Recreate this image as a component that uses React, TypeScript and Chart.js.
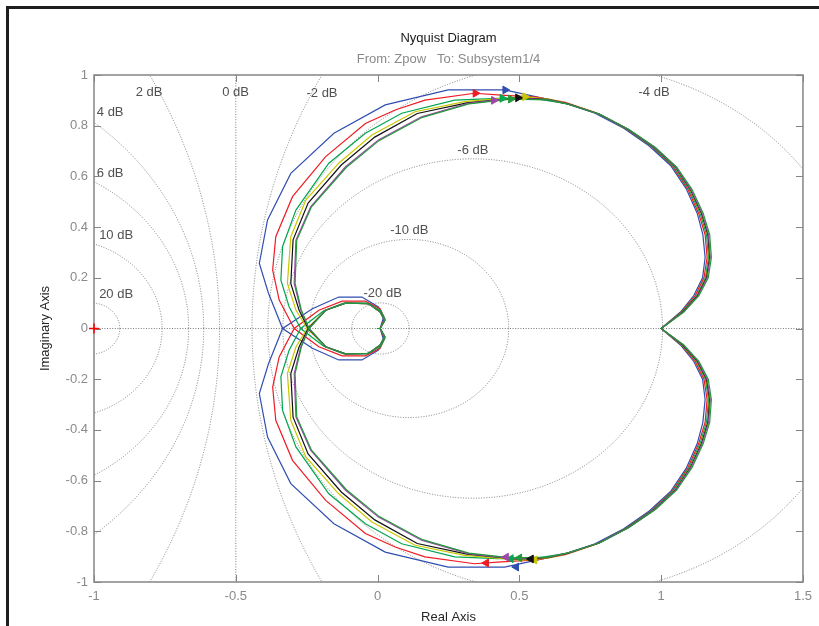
import React, { useEffect, useRef } from "react";
import { Chart, registerables } from "chart.js";

Chart.register(...registerables);

// ---------- axis ticks ----------
const xTickValues = [-1, -0.5, 0, 0.5, 1, 1.5];
const xTickLabels = ["-1", "-0.5", "0", "0.5", "1", "1.5"];
const yTickValues = [-1, -0.8, -0.6, -0.4, -0.2, 0, 0.2, 0.4, 0.6, 0.8, 1];
const yTickLabels = ["-1", "-0.8", "-0.6", "-0.4", "-0.2", "0", "0.2", "0.4", "0.6", "0.8", "1"];

// ---------- M-circle grid (closed-loop magnitude, dB) ----------
const gridDb = [20, 10, 6, 4, 2, 0, -2, -4, -6, -10, -20];
const gridLabelText = ["20 dB", "10 dB", "6 dB", "4 dB", "2 dB", "0 dB", "-2 dB", "-4 dB", "-6 dB", "-10 dB", "-20 dB"];
const gridLabelRe = [-0.922, -0.922, -0.943, -0.943, -0.806, -0.501, -0.196, 0.975, 0.336, 0.112, 0.018];
const gridLabelIm = [0.135, 0.369, 0.612, 0.853, 0.932, 0.932, 0.928, 0.933, 0.704, 0.386, 0.139];

// ---------- Nyquist branches (one frequency branch; the other is its conjugate) ----------
const seriesNames = ["s1", "s2", "s3", "s4", "s5", "s6", "s7"];
const seriesColors = ["#2f4fb0", "#ee1c24", "#00a650", "#c9c700", "#111111", "#a047a8", "#22973c"];

const branch1: number[][] = [
  [0.009, 0], [0.021, -0.045], [0.003, -0.085], [-0.055, -0.124], [-0.137, -0.124], [-0.23, -0.078],
  [-0.335, 0], [-0.385, 0.14], [-0.417, 0.257], [-0.388, 0.428], [-0.306, 0.612], [-0.154, 0.77],
  [0.027, 0.882], [0.249, 0.941], [0.448, 0.941], [0.658, 0.89], [0.765, 0.85], [0.868, 0.79],
  [0.958, 0.72], [1.033, 0.643], [1.088, 0.552], [1.127, 0.455], [1.147, 0.37], [1.155, 0.28],
  [1.146, 0.2], [1.115, 0.13], [1.068, 0.065], [1.0, 0],
];
const branch2: number[][] = [
  [0.009, 0], [0.025, -0.039], [0.009, -0.078], [-0.043, -0.108], [-0.125, -0.108], [-0.207, -0.072],
  [-0.294, 0], [-0.347, 0.112], [-0.37, 0.231], [-0.359, 0.362], [-0.3, 0.52], [-0.183, 0.678],
  [-0.043, 0.809], [0.062, 0.862], [0.167, 0.901], [0.342, 0.928], [0.436, 0.921], [0.56, 0.913],
  [0.662, 0.892], [0.77, 0.851], [0.872, 0.791], [0.963, 0.721], [1.038, 0.643], [1.093, 0.552],
  [1.132, 0.455], [1.155, 0.37], [1.162, 0.28], [1.151, 0.2], [1.12, 0.13], [1.071, 0.065], [1.0, 0],
];
const branch3: number[][] = [
  [0.009, 0], [0.027, -0.036], [0.01, -0.072], [-0.04, -0.1], [-0.12, -0.1], [-0.19, -0.07],
  [-0.271, 0], [-0.312, 0.086], [-0.341, 0.191], [-0.335, 0.323], [-0.288, 0.467], [-0.172, 0.652],
  [-0.043, 0.77], [0.085, 0.849], [0.272, 0.901], [0.424, 0.908], [0.56, 0.906], [0.667, 0.887],
  [0.775, 0.848], [0.877, 0.788], [0.968, 0.718], [1.043, 0.64], [1.098, 0.55], [1.137, 0.455],
  [1.16, 0.37], [1.167, 0.28], [1.156, 0.2], [1.125, 0.13], [1.073, 0.065], [1.0, 0],
];
const branch4: number[][] = [
  [0.009, 0], [0.025, -0.032], [0.009, -0.065], [-0.031, -0.098], [-0.113, -0.1], [-0.183, -0.072],
  [-0.248, 0], [-0.288, 0.073], [-0.318, 0.178], [-0.306, 0.362], [-0.253, 0.507], [-0.137, 0.652],
  [-0.02, 0.763], [0.132, 0.855], [0.307, 0.895], [0.506, 0.914], [0.6, 0.906], [0.672, 0.887],
  [0.78, 0.847], [0.882, 0.787], [0.973, 0.717], [1.048, 0.639], [1.102, 0.549], [1.141, 0.455],
  [1.164, 0.37], [1.17, 0.28], [1.159, 0.2], [1.127, 0.13], [1.075, 0.065], [1.0, 0],
];
const branch5: number[][] = [
  [0.009, 0], [0.025, -0.032], [0.009, -0.065], [-0.031, -0.098], [-0.113, -0.1], [-0.183, -0.072],
  [-0.245, 0], [-0.277, 0.073], [-0.306, 0.178], [-0.298, 0.35], [-0.245, 0.495], [-0.128, 0.645],
  [-0.01, 0.755], [0.14, 0.848], [0.315, 0.89], [0.494, 0.91], [0.6, 0.904], [0.672, 0.886],
  [0.781, 0.846], [0.883, 0.786], [0.974, 0.716], [1.049, 0.639], [1.103, 0.549], [1.142, 0.455],
  [1.165, 0.37], [1.171, 0.28], [1.16, 0.2], [1.128, 0.13], [1.076, 0.065], [1.0, 0],
];
const branch6: number[][] = [
  [0.009, 0], [0.025, -0.032], [0.009, -0.065], [-0.031, -0.098], [-0.113, -0.1], [-0.183, -0.072],
  [-0.242, 0], [-0.271, 0.073], [-0.294, 0.178], [-0.288, 0.349], [-0.236, 0.48], [-0.113, 0.638],
  [0.003, 0.744], [0.155, 0.835], [0.319, 0.888], [0.412, 0.9], [0.483, 0.908], [0.6, 0.903],
  [0.673, 0.885], [0.783, 0.845], [0.885, 0.785], [0.976, 0.715], [1.051, 0.638], [1.105, 0.548],
  [1.144, 0.455], [1.167, 0.37], [1.173, 0.28], [1.162, 0.2], [1.13, 0.13], [1.078, 0.065], [1.0, 0],
];
const branch7: number[][] = [
  [-0.003, 0], [0.009, 0], [0.025, -0.032], [0.009, -0.065], [-0.031, -0.098], [-0.113, -0.1], [-0.183, -0.072],
  [-0.242, 0], [-0.269, 0.073], [-0.291, 0.178], [-0.285, 0.349], [-0.233, 0.48], [-0.11, 0.636],
  [0.006, 0.742], [0.158, 0.833], [0.322, 0.886], [0.47, 0.905], [0.6, 0.902], [0.675, 0.884],
  [0.786, 0.844], [0.888, 0.784], [0.98, 0.714], [1.055, 0.637], [1.109, 0.548], [1.148, 0.455],
  [1.171, 0.37], [1.177, 0.28], [1.166, 0.2], [1.133, 0.13], [1.08, 0.065], [1.0, 0],
];
const branches = [branch1, branch2, branch3, branch4, branch5, branch6, branch7];

// direction arrows (upper ones point right, lower ones point left)
const topArrowRe = [0.45, 0.345, 0.44, 0.52, 0.495, 0.41, 0.47];
const topArrowIm = [0.941, 0.928, 0.908, 0.914, 0.91, 0.9, 0.905];
const bottomArrowRe = [0.489, 0.383, 0.47, 0.553, 0.541, 0.453, 0.5];
const bottomArrowIm = [-0.941, -0.925, -0.908, -0.913, -0.909, -0.902, -0.905];

// critical point
const criticalRe = [-1];
const criticalIm = [0];

const FONT = "'Liberation Sans', Arial, Helvetica, sans-serif";

const nyquistDecor = {
  id: "nyquistDecor",
  beforeDatasetsDraw(chart: any) {
    const { ctx, chartArea, scales } = chart;
    const { left, top, right, bottom } = chartArea;
    const xs = scales.x;
    const ys = scales.y;
    const ux = xs.getPixelForValue(1) - xs.getPixelForValue(0);
    const uy = ys.getPixelForValue(0) - ys.getPixelForValue(1);
    ctx.save();
    ctx.beginPath();
    ctx.rect(left, top, right - left, bottom - top);
    ctx.clip();
    ctx.strokeStyle = "#7c7c7c";
    ctx.lineWidth = 1;
    ctx.setLineDash([1, 1.6]);
    gridDb.forEach((db) => {
      ctx.beginPath();
      if (db === 0) {
        const px = xs.getPixelForValue(-0.5);
        ctx.moveTo(px, top);
        ctx.lineTo(px, bottom);
      } else {
        const m = Math.pow(10, db / 20);
        const c = (-m * m) / (m * m - 1);
        const r = Math.abs(m / (m * m - 1));
        ctx.ellipse(xs.getPixelForValue(c), ys.getPixelForValue(0), r * ux, r * uy, 0, 0, Math.PI * 2);
      }
      ctx.stroke();
    });
    ctx.beginPath();
    const py0 = ys.getPixelForValue(0);
    ctx.moveTo(left, py0);
    ctx.lineTo(right, py0);
    ctx.stroke();
    ctx.setLineDash([]);
    ctx.fillStyle = "#505050";
    ctx.font = `13px ${FONT}`;
    ctx.textAlign = "center";
    ctx.textBaseline = "middle";
    gridLabelText.forEach((t, i) => {
      ctx.fillText(t, xs.getPixelForValue(gridLabelRe[i]), ys.getPixelForValue(gridLabelIm[i]));
    });
    ctx.restore();
  },
  afterDatasetsDraw(chart: any) {
    const { ctx, chartArea, scales } = chart;
    const { left, top, right, bottom } = chartArea;
    const xs = scales.x;
    const ys = scales.y;
    ctx.save();
    ctx.strokeStyle = "#858585";
    ctx.lineWidth = 1.5;
    ctx.strokeRect(left, top, right - left, bottom - top);
    ctx.lineWidth = 1;
    const tl = 7;
    ctx.beginPath();
    xTickValues.forEach((v) => {
      const px = Math.round(xs.getPixelForValue(v)) + 0.5;
      ctx.moveTo(px, bottom);
      ctx.lineTo(px, bottom - tl);
      ctx.moveTo(px, top);
      ctx.lineTo(px, top + tl);
    });
    yTickValues.forEach((v) => {
      const py = Math.round(ys.getPixelForValue(v)) + 0.5;
      ctx.moveTo(left, py);
      ctx.lineTo(left + tl, py);
      ctx.moveTo(right, py);
      ctx.lineTo(right - tl, py);
    });
    ctx.stroke();
    // critical point marker on top of the frame
    const cx = xs.getPixelForValue(criticalRe[0]);
    const cy = ys.getPixelForValue(criticalIm[0]);
    ctx.strokeStyle = "#ff0000";
    ctx.lineWidth = 1.5;
    ctx.beginPath();
    ctx.moveTo(cx - 5, cy);
    ctx.lineTo(cx + 5, cy);
    ctx.moveTo(cx, cy - 5);
    ctx.lineTo(cx, cy + 5);
    ctx.stroke();
    ctx.restore();
  },
  afterDraw(chart: any) {
    const { ctx, chartArea } = chart;
    const cx = (chartArea.left + chartArea.right) / 2;
    const cy = (chartArea.top + chartArea.bottom) / 2;
    ctx.save();
    ctx.textAlign = "center";
    ctx.textBaseline = "middle";
    ctx.font = `13px ${FONT}`;
    ctx.fillStyle = "#1a1a1a";
    ctx.fillText("Nyquist Diagram", cx, 38);
    ctx.fillStyle = "#8a8a8a";
    ctx.fillText("From: Zpow   To: Subsystem1/4", cx, 59);
    ctx.fillStyle = "#262626";
    ctx.fillText("Real Axis", cx, 617);
    ctx.translate(45, cy);
    ctx.rotate(-Math.PI / 2);
    ctx.fillText("Imaginary Axis", 0, 0);
    ctx.restore();
  },
};

function fullLoop(branch: number[][]) {
  const mirrored = branch
    .slice(0, -1)
    .reverse()
    .map(([re, im]) => [re, -im]);
  return branch.concat(mirrored).map(([re, im]) => ({ x: re, y: im }));
}

export default function App() {
  const canvasRef = useRef<HTMLCanvasElement | null>(null);

  useEffect(() => {
    if (!canvasRef.current) return;
    const curveSets = branches.map((b, i) => ({
      label: seriesNames[i],
      data: fullLoop(b),
      showLine: true,
      borderColor: seriesColors[i],
      backgroundColor: seriesColors[i],
      borderWidth: 1.2,
      pointRadius: 0,
      tension: 0,
      fill: false,
    }));
    const topArrows = {
      label: "topArrows",
      data: topArrowRe.map((v, i) => ({ x: v, y: topArrowIm[i] })),
      showLine: false,
      pointStyle: "triangle",
      pointRotation: 90,
      pointRadius: 4.5,
      pointBorderWidth: 1,
      pointBackgroundColor: seriesColors,
      pointBorderColor: seriesColors,
    };
    const bottomArrows = {
      label: "bottomArrows",
      data: bottomArrowRe.map((v, i) => ({ x: v, y: bottomArrowIm[i] })),
      showLine: false,
      pointStyle: "triangle",
      pointRotation: -90,
      pointRadius: 4.5,
      pointBorderWidth: 1,
      pointBackgroundColor: seriesColors,
      pointBorderColor: seriesColors,
    };
    const datasets: any[] = [topArrows, bottomArrows, ...curveSets.slice().reverse()];

    const chart = new Chart(canvasRef.current, {
      type: "scatter",
      data: { datasets },
      plugins: [nyquistDecor],
      options: {
        animation: false,
        responsive: false,
        devicePixelRatio: 1,
        layout: { padding: { left: 0, right: 12, top: 75, bottom: 0 } },
        plugins: {
          legend: { display: false },
          tooltip: { enabled: false },
          title: { display: false },
        },
        scales: {
          x: {
            type: "linear",
            position: "bottom",
            min: -1,
            max: 1.5,
            grid: { display: false, drawTicks: false },
            border: { display: false },
            afterBuildTicks: (scale: any) => {
              scale.ticks = xTickValues.map((v) => ({ value: v }));
            },
            afterFit: (scale: any) => {
              scale.height = 44;
            },
            ticks: {
              color: "#8a8a8a",
              font: { family: FONT, size: 13 },
              padding: 7,
              maxRotation: 0,
              autoSkip: false,
              callback: (v: any) => {
                const i = xTickValues.findIndex((t) => Math.abs(t - Number(v)) < 1e-9);
                return i >= 0 ? xTickLabels[i] : "";
              },
            },
          },
          y: {
            type: "linear",
            min: -1,
            max: 1,
            grid: { display: false, drawTicks: false },
            border: { display: false },
            afterBuildTicks: (scale: any) => {
              scale.ticks = yTickValues.map((v) => ({ value: v }));
            },
            afterFit: (scale: any) => {
              scale.width = 94;
            },
            ticks: {
              color: "#8a8a8a",
              font: { family: FONT, size: 13 },
              padding: 6,
              autoSkip: false,
              callback: (v: any) => {
                const i = yTickValues.findIndex((t) => Math.abs(t - Number(v)) < 1e-9);
                return i >= 0 ? yTickLabels[i] : "";
              },
            },
          },
        },
      } as any,
    });
    return () => chart.destroy();
  }, []);

  return (
    <div style={{ position: "fixed", left: 0, top: 0, width: 819, height: 626, background: "#ffffff", overflow: "hidden" }}>
      <div
        style={{
          position: "absolute",
          left: 6,
          top: 6,
          width: 830,
          height: 640,
          borderTop: "3px solid #1e1e1e",
          borderLeft: "3px solid #1e1e1e",
        }}
      />
      <canvas ref={canvasRef} width={819} height={626} style={{ position: "absolute", left: 0, top: 0, width: 819, height: 626 }} />
    </div>
  );
}
